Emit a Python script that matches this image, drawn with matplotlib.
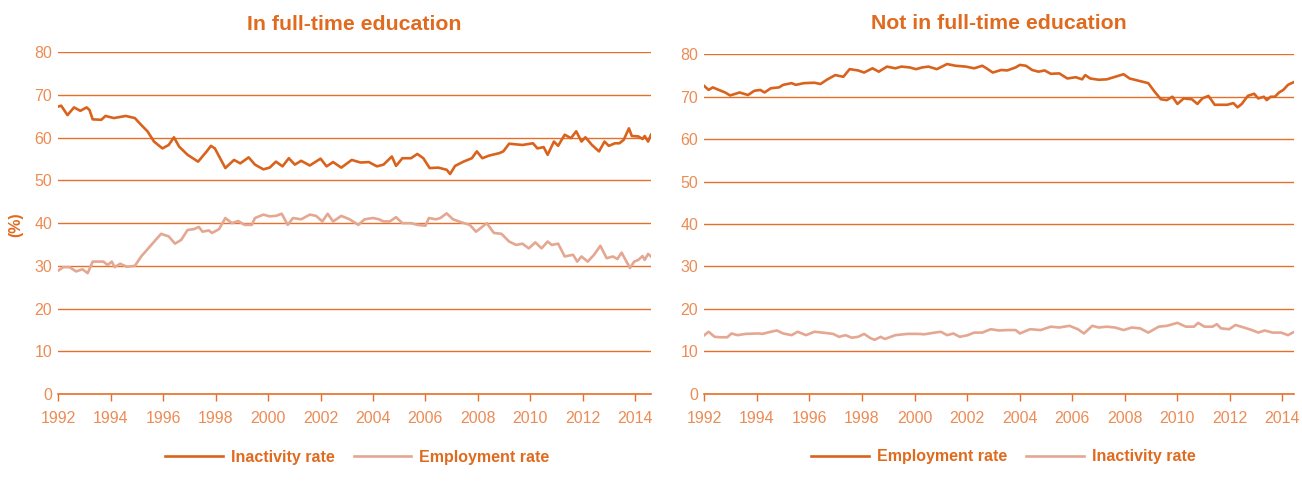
import matplotlib
matplotlib.use("Agg")
import matplotlib.pyplot as plt

plt.rcParams['font.family'] = ['Liberation Sans', 'DejaVu Sans']

# ---- In full-time education ----
yr_inact_ft = [1992.00, 1992.11, 1992.35, 1992.60, 1992.84, 1993.08, 1993.19, 1993.31, 1993.64, 1993.80,
               1994.12, 1994.57, 1994.92, 1995.16, 1995.40, 1995.65, 1995.97, 1996.21, 1996.41, 1996.61,
               1996.93, 1997.33, 1997.66, 1997.82, 1997.97, 1998.37, 1998.70, 1998.94, 1999.26, 1999.50,
               1999.82, 2000.06, 2000.30, 2000.55, 2000.79, 2001.02, 2001.26, 2001.59, 2002.00, 2002.23,
               2002.48, 2002.79, 2003.19, 2003.52, 2003.84, 2004.15, 2004.40, 2004.72, 2004.88, 2005.12,
               2005.45, 2005.69, 2005.92, 2006.16, 2006.49, 2006.81, 2006.94, 2007.13, 2007.45, 2007.77,
               2007.96, 2008.17, 2008.42, 2008.82, 2008.97, 2009.19, 2009.70, 2010.10, 2010.27, 2010.51,
               2010.66, 2010.90, 2011.06, 2011.31, 2011.55, 2011.75, 2011.95, 2012.10, 2012.35, 2012.62,
               2012.83, 2012.99, 2013.23, 2013.40, 2013.56, 2013.76, 2013.87, 2014.12, 2014.28, 2014.36,
               2014.49, 2014.60]
inact_ft = [67.3, 67.5, 65.3, 67.1, 66.3, 67.1, 66.5, 64.3, 64.2, 65.1,
            64.6, 65.1, 64.6, 63.0, 61.5, 59.1, 57.5, 58.3, 60.1, 57.9,
            56.0, 54.4, 56.8, 58.1, 57.5, 52.9, 54.8, 54.0, 55.4, 53.7,
            52.6, 53.0, 54.4, 53.3, 55.2, 53.7, 54.6, 53.5, 55.1, 53.3,
            54.3, 53.0, 54.8, 54.2, 54.3, 53.3, 53.7, 55.6, 53.4, 55.2,
            55.2, 56.2, 55.2, 52.9, 53.0, 52.5, 51.5, 53.4, 54.4, 55.2,
            56.8, 55.2, 55.8, 56.4, 56.8, 58.6, 58.3, 58.7, 57.5, 57.8,
            56.0, 59.1, 58.1, 60.7, 59.9, 61.5, 59.1, 60.1, 58.3, 56.8,
            59.1, 58.1, 58.7, 58.7, 59.5, 62.2, 60.4, 60.3, 59.7, 60.4,
            59.1, 60.7]

yr_emp_ft = [1992.00, 1992.19, 1992.43, 1992.68, 1992.92, 1993.12, 1993.31, 1993.72, 1993.88, 1994.04,
             1994.15, 1994.36, 1994.61, 1994.92, 1995.16, 1995.49, 1995.73, 1995.92, 1996.21, 1996.45,
             1996.69, 1996.93, 1997.17, 1997.36, 1997.50, 1997.74, 1997.86, 1998.13, 1998.37, 1998.62,
             1998.86, 1999.10, 1999.38, 1999.50, 1999.82, 2000.06, 2000.30, 2000.52, 2000.75, 2000.95,
             2001.26, 2001.59, 2001.83, 2002.07, 2002.27, 2002.48, 2002.79, 2003.11, 2003.44, 2003.68,
             2004.00, 2004.23, 2004.40, 2004.64, 2004.88, 2005.12, 2005.45, 2005.69, 2006.00, 2006.13,
             2006.40, 2006.57, 2006.81, 2007.05, 2007.37, 2007.69, 2007.93, 2008.34, 2008.61, 2008.90,
             2009.19, 2009.46, 2009.70, 2009.94, 2010.19, 2010.43, 2010.66, 2010.82, 2011.06, 2011.31,
             2011.63, 2011.79, 2011.95, 2012.19, 2012.43, 2012.67, 2012.91, 2013.15, 2013.32, 2013.48,
             2013.80, 2013.96, 2014.12, 2014.28, 2014.36, 2014.49, 2014.60]
emp_ft = [28.9, 29.7, 29.7, 28.7, 29.2, 28.3, 31.0, 31.0, 30.2, 31.0,
          29.7, 30.5, 29.8, 30.0, 32.2, 34.5, 36.2, 37.5, 36.9, 35.2,
          36.1, 38.4, 38.6, 39.1, 38.0, 38.3, 37.7, 38.6, 41.2, 40.0,
          40.5, 39.6, 39.6, 41.2, 42.0, 41.6, 41.7, 42.2, 39.6, 41.2,
          40.9, 42.0, 41.7, 40.4, 42.2, 40.4, 41.7, 40.9, 39.6, 40.9,
          41.2, 40.9, 40.4, 40.4, 41.4, 40.0, 40.0, 39.6, 39.4, 41.2,
          40.9, 41.2, 42.3, 40.9, 40.2, 39.6, 38.0, 40.0, 37.7, 37.5,
          35.7, 34.9, 35.2, 34.1, 35.5, 34.1, 35.7, 34.9, 35.2, 32.2,
          32.6, 31.0, 32.2, 31.0, 32.6, 34.7, 31.8, 32.2, 31.6, 33.1,
          29.5, 31.0, 31.4, 32.3, 31.4, 32.8, 32.2]

# ---- Not in full-time education ----
yr_emp_nft = [1992.00, 1992.16, 1992.32, 1992.55, 1992.79, 1992.98, 1993.34, 1993.66, 1993.90, 1994.13,
              1994.29, 1994.53, 1994.84, 1995.00, 1995.32, 1995.48, 1995.79, 1996.19, 1996.42, 1996.66,
              1996.98, 1997.29, 1997.53, 1997.85, 1998.08, 1998.40, 1998.64, 1998.95, 1999.27, 1999.50,
              1999.82, 2000.06, 2000.29, 2000.53, 2000.85, 2001.24, 2001.56, 2001.95, 2002.27, 2002.58,
              2002.74, 2002.98, 2003.30, 2003.53, 2003.85, 2004.01, 2004.24, 2004.48, 2004.72, 2004.95,
              2005.19, 2005.51, 2005.82, 2006.14, 2006.38, 2006.50, 2006.69, 2007.01, 2007.32, 2007.64,
              2007.96, 2008.19, 2008.51, 2008.90, 2009.14, 2009.38, 2009.61, 2009.82, 2010.01, 2010.25,
              2010.56, 2010.77, 2010.96, 2011.19, 2011.43, 2011.91, 2012.14, 2012.30, 2012.46, 2012.69,
              2012.93, 2013.09, 2013.30, 2013.41, 2013.56, 2013.72, 2013.88, 2014.04, 2014.22, 2014.46]
emp_nft = [72.5, 71.6, 72.2, 71.6, 71.0, 70.3, 71.0, 70.4, 71.4, 71.6,
           71.0, 72.0, 72.2, 72.8, 73.2, 72.8, 73.2, 73.3, 73.0, 74.0,
           75.1, 74.7, 76.5, 76.2, 75.7, 76.7, 75.9, 77.1, 76.7, 77.1,
           76.9, 76.5, 76.9, 77.1, 76.5, 77.7, 77.3, 77.1, 76.7, 77.3,
           76.7, 75.7, 76.3, 76.2, 76.9, 77.5, 77.3, 76.3, 75.9, 76.2,
           75.4, 75.5, 74.3, 74.6, 74.1, 75.1, 74.3, 74.0, 74.1, 74.7,
           75.3, 74.3, 73.8, 73.2, 71.2, 69.4, 69.2, 70.0, 68.3, 69.6,
           69.4, 68.3, 69.6, 70.2, 68.1, 68.1, 68.5, 67.5, 68.3, 70.2,
           70.7, 69.6, 70.0, 69.2, 70.0, 70.0, 71.0, 71.6, 72.8, 73.5]

yr_inact_nft = [1992.00, 1992.16, 1992.39, 1992.63, 1992.87, 1993.03, 1993.26, 1993.58, 1994.05, 1994.21,
                1994.53, 1994.76, 1995.00, 1995.32, 1995.55, 1995.87, 1996.19, 1996.50, 1996.90, 1997.13,
                1997.37, 1997.61, 1997.85, 1998.08, 1998.32, 1998.48, 1998.71, 1998.87, 1999.27, 1999.74,
                2000.14, 2000.37, 2000.77, 2001.00, 2001.24, 2001.48, 2001.72, 2002.03, 2002.27, 2002.58,
                2002.90, 2003.22, 2003.53, 2003.85, 2004.01, 2004.40, 2004.80, 2005.19, 2005.51, 2005.90,
                2006.22, 2006.45, 2006.77, 2007.01, 2007.32, 2007.64, 2007.96, 2008.27, 2008.59, 2008.90,
                2009.30, 2009.61, 2010.01, 2010.33, 2010.64, 2010.80, 2011.04, 2011.35, 2011.51, 2011.67,
                2011.98, 2012.22, 2012.54, 2012.85, 2013.09, 2013.33, 2013.64, 2013.96, 2014.22, 2014.46]
inact_nft = [13.8, 14.6, 13.4, 13.3, 13.3, 14.2, 13.8, 14.1, 14.2, 14.1,
             14.6, 14.9, 14.2, 13.8, 14.6, 13.8, 14.6, 14.4, 14.1, 13.4,
             13.8, 13.2, 13.4, 14.1, 13.1, 12.7, 13.4, 12.9, 13.8, 14.1,
             14.1, 14.0, 14.4, 14.6, 13.8, 14.2, 13.4, 13.8, 14.4, 14.4,
             15.2, 14.9, 15.0, 15.0, 14.2, 15.2, 15.0, 15.8, 15.6, 16.0,
             15.2, 14.2, 16.0, 15.6, 15.8, 15.6, 15.0, 15.6, 15.4, 14.4,
             15.8, 16.0, 16.7, 15.8, 15.8, 16.7, 15.8, 15.8, 16.4, 15.4,
             15.2, 16.2, 15.6, 15.0, 14.4, 14.9, 14.4, 14.4, 13.8, 14.6]

year_ticks = list(range(1992, 2015, 2))
pct_ticks = list(range(0, 81, 10))

dark = '#D9631D'
light = '#E4A792'
grid_c = '#E6702A'
tick_c = '#EC8C55'
title_c = '#E06A1E'

W, H = 1302, 483
fig = plt.figure(figsize=(13.02, 4.83), dpi=100)
ax1 = fig.add_axes([58.3/W, 1-394/H, (650.7-58.3)/W, (394-52.3)/H])
ax2 = fig.add_axes([704.4/W, 1-393.7/H, (1294.3-704.4)/W, (393.7-54.3)/H])


def style(ax, xmax, title, tpad):
    ax.set_xlim(1992, xmax)
    ax.set_ylim(0, 80)
    ax.set_xticks(year_ticks)
    ax.set_yticks(pct_ticks)
    for s in ['top', 'right', 'left']:
        ax.spines[s].set_visible(False)
    ax.spines['bottom'].set_color(grid_c)
    ax.spines['bottom'].set_linewidth(1.2)
    ax.grid(axis='y', color=grid_c, linewidth=1.0)
    ax.set_axisbelow(True)
    ax.tick_params(axis='x', colors=grid_c, length=5.2, width=1.0, labelcolor=tick_c,
                   labelsize=11.5, pad=7)
    ax.tick_params(axis='y', length=0, labelcolor=tick_c, labelsize=11.5, pad=4.5)
    ax.set_title(title, color=title_c, fontsize=15.3, fontweight='bold', pad=tpad)


ax1.plot(yr_inact_ft, inact_ft, color=dark, linewidth=1.9, label='Inactivity rate')
ax1.plot(yr_emp_ft, emp_ft, color=light, linewidth=1.9, label='Employment rate')
style(ax1, 2014.59, 'In full-time education', 16)
ax1.legend(loc='center', bbox_to_anchor=(0.505, -0.185), ncol=2, frameon=False,
           handlelength=3.6, columnspacing=1.2, handletextpad=0.5,
           prop={'size': 11.5, 'weight': 'bold'}, labelcolor=title_c)

ax2.plot(yr_emp_nft, emp_nft, color=dark, linewidth=1.9, label='Employment rate')
ax2.plot(yr_inact_nft, inact_nft, color=light, linewidth=1.9, label='Inactivity rate')
style(ax2, 2014.46, 'Not in full-time education', 18.5)
ax2.legend(loc='center', bbox_to_anchor=(0.507, -0.186), ncol=2, frameon=False,
           handlelength=3.6, columnspacing=1.2, handletextpad=0.5,
           prop={'size': 11.5, 'weight': 'bold'}, labelcolor=title_c)

fig.text(16/W, 1-225/H, '(%)', rotation=90, ha='center', va='center',
         color=title_c, fontsize=11.5, fontweight='bold')

fig.savefig('out.png', dpi=100)
